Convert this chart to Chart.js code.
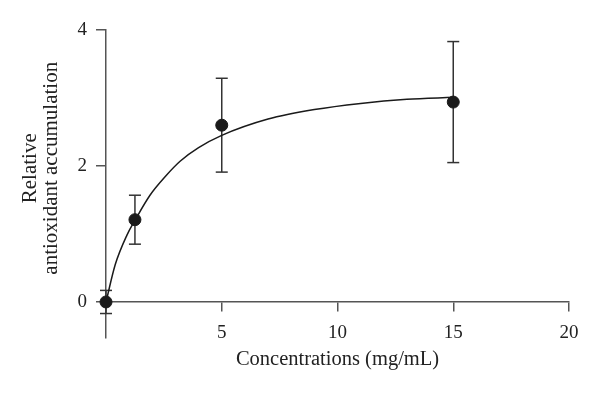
<!DOCTYPE html>
<html>
<head>
<meta charset="utf-8">
<script src="https://cdn.jsdelivr.net/npm/chart.js@4"></script>
<style>
  html, body { margin:0; padding:0; background:#fff; }
  #wrap { width:600px; height:396px; }
</style>
</head>
<body>
<div id="wrap"><canvas id="chart" width="600" height="396"></canvas></div>
<script>
// measured points (mean +/- error)
const conc = [0, 1.25, 5, 15];
const accum = [0, 1.21, 2.6, 2.94];
const errs = [0.17, 0.36, 0.69, 0.89];

// fitted curve
const curveX = [0, 0.4, 0.9, 1.25, 1.9, 2.6, 3.2, 4, 5, 7, 9, 11, 13, 15];
const curveY = [0, 0.55, 0.98, 1.2, 1.57, 1.86, 2.07, 2.27, 2.45, 2.69, 2.83, 2.92, 2.98, 3.01];

const xTicks = [0, 5, 10, 15, 20];
const yTicks = [0, 2, 4];

const serif = '"Liberation Serif", "DejaVu Serif", serif';
const axisCol = '#555';

const errSets = conc.map((x, i) => ({
  type: 'line',
  data: [{x, y: accum[i] - errs[i]}, {x, y: accum[i] + errs[i]}],
  showLine: true,
  borderColor: '#333',
  borderWidth: 1.5,
  pointStyle: 'line',
  pointRadius: 6,
  pointBorderWidth: 1.5,
  pointBorderColor: '#333',
  clip: false,
  order: 3
}));

new Chart(document.getElementById('chart'), {
  type: 'scatter',
  data: {
    datasets: [
      {
        type: 'line',
        data: curveX.map((x, i) => ({x, y: curveY[i]})),
        borderColor: '#1a1a1a',
        borderWidth: 1.5,
        pointRadius: 0,
        cubicInterpolationMode: 'monotone',
        clip: false,
        order: 2
      },
      {
        data: conc.map((x, i) => ({x, y: accum[i]})),
        backgroundColor: '#1a1a1a',
        borderColor: '#1a1a1a',
        pointRadius: 6,
        clip: false,
        order: 1
      },
      ...errSets
    ]
  },
  options: {
    responsive: false,
    animation: false,
    layout: { padding: { top: 30, right: 31, bottom: 58, left: 0 } },
    plugins: { legend: { display: false }, tooltip: { enabled: false } },
    scales: {
      x: {
        type: 'linear',
        position: { y: 0 },
        min: 0, max: 20,
        afterBuildTicks: s => { s.ticks = xTicks.map(v => ({value: v})); },
        grid: { drawOnChartArea: false, drawTicks: true, tickLength: 9, color: axisCol, lineWidth: 1.5 },
        border: { display: true, color: axisCol, width: 1.5 },
        ticks: {
          color: '#222', padding: 11,
          font: { family: serif, size: 19 },
          callback: v => v === 0 ? '' : v
        },
        title: {
          display: true, text: 'Concentrations (mg/mL)', color: '#222',
          font: { family: serif, size: 20.5, lineHeight: 1.0 }, padding: { top: -6, bottom: 0 }
        }
      },
      y: {
        type: 'linear',
        min: -0.53, max: 4,
        afterBuildTicks: s => { s.ticks = yTicks.map(v => ({value: v})); },
        afterFit: s => { s.width = 106; },
        grid: { drawOnChartArea: false, drawTicks: true, tickLength: 10, color: axisCol, lineWidth: 1.5 },
        border: { display: true, color: axisCol, width: 1.5 },
        ticks: { color: '#222', padding: 9, font: { family: serif, size: 19 } },
        title: {
          display: true,
          text: ['      Relative', '      antioxidant accumulation'],
          color: '#222',
          font: { family: serif, size: 21, lineHeight: 1.0 },
          padding: { top: 20, bottom: 0 }
        }
      }
    }
  }
});
</script>
</body>
</html>
